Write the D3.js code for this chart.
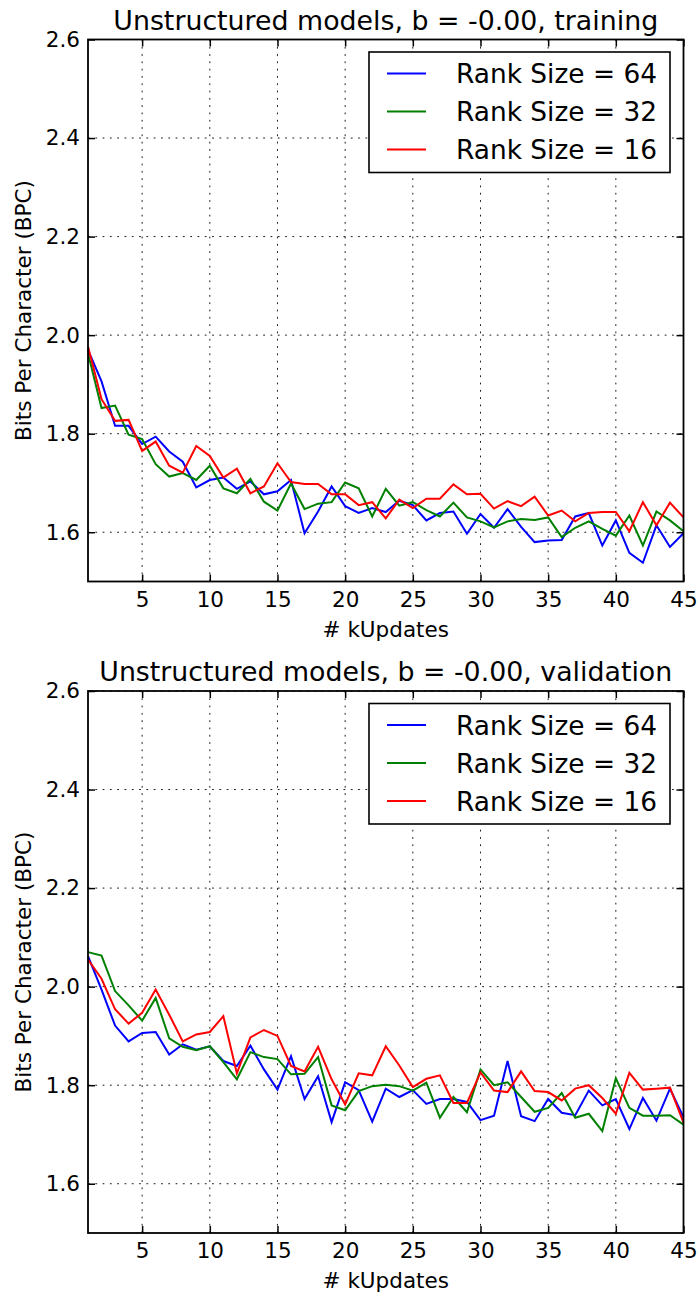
<!DOCTYPE html>
<html>
<head>
<meta charset="utf-8">
<script src="https://cdn.jsdelivr.net/npm/d3@7"></script>
<style>
  html, body { margin: 0; padding: 0; background: #fff; }
  svg text { font-family: "DejaVu Sans", sans-serif; fill: #000; }
</style>
</head>
<body>
<div id="chart"></div>
<script>
// --------------- Data ---------------
const kUpdates = d3.range(1, 46);
const yTicks = [1.6, 1.8, 2.0, 2.2, 2.4, 2.6];
const xTicks = [5, 10, 15, 20, 25, 30, 35, 40, 45];
const rankLabels = ["Rank Size = 64", "Rank Size = 32", "Rank Size = 16"];

const trainRank64 = [1.97, 1.906, 1.816, 1.816, 1.779, 1.794, 1.764, 1.743, 1.691, 1.706,
  1.711, 1.688, 1.703, 1.677, 1.683, 1.706, 1.598, 1.642, 1.693, 1.653,
  1.639, 1.649, 1.641, 1.664, 1.655, 1.624, 1.639, 1.642, 1.597, 1.637,
  1.609, 1.647, 1.611, 1.58, 1.583, 1.584, 1.632, 1.639, 1.573, 1.624,
  1.558, 1.538, 1.614, 1.57, 1.598];
const trainRank32 = [1.963, 1.852, 1.857, 1.798, 1.789, 1.738, 1.713, 1.72, 1.706, 1.735,
  1.689, 1.679, 1.708, 1.662, 1.644, 1.699, 1.647, 1.658, 1.661, 1.701,
  1.689, 1.632, 1.688, 1.654, 1.661, 1.645, 1.632, 1.66, 1.63, 1.622,
  1.61, 1.622, 1.627, 1.625, 1.63, 1.59, 1.609, 1.622, 1.607, 1.593,
  1.634, 1.573, 1.642, 1.624, 1.602];
const trainRank16 = [1.977, 1.87, 1.826, 1.828, 1.765, 1.784, 1.735, 1.721, 1.775, 1.755,
  1.711, 1.729, 1.679, 1.693, 1.74, 1.702, 1.698, 1.698, 1.677, 1.677,
  1.655, 1.661, 1.628, 1.666, 1.649, 1.668, 1.668, 1.697, 1.677, 1.678,
  1.648, 1.663, 1.653, 1.672, 1.634, 1.644, 1.622, 1.639, 1.641, 1.641,
  1.602, 1.661, 1.614, 1.66, 1.63];

const validRank64 = [2.062, 1.994, 1.921, 1.889, 1.906, 1.908, 1.862, 1.883, 1.872, 1.879,
  1.849, 1.839, 1.88, 1.832, 1.791, 1.859, 1.772, 1.818, 1.725, 1.806,
  1.79, 1.726, 1.793, 1.776, 1.79, 1.762, 1.772, 1.772, 1.766, 1.729,
  1.738, 1.849, 1.737, 1.727, 1.772, 1.744, 1.739, 1.789, 1.759, 1.772,
  1.711, 1.774, 1.728, 1.793, 1.735];
const validRank32 = [2.07, 2.063, 1.991, 1.962, 1.931, 1.977, 1.895, 1.878, 1.871, 1.879,
  1.847, 1.812, 1.867, 1.857, 1.853, 1.822, 1.823, 1.857, 1.759, 1.749,
  1.788, 1.798, 1.801, 1.798, 1.789, 1.805, 1.734, 1.776, 1.745, 1.832,
  1.80, 1.806, 1.776, 1.746, 1.754, 1.784, 1.734, 1.742, 1.707, 1.814,
  1.754, 1.738, 1.738, 1.739, 1.72];
const validRank16 = [2.055, 2.016, 1.954, 1.925, 1.947, 1.994, 1.943, 1.889, 1.903, 1.908,
  1.94, 1.824, 1.897, 1.912, 1.9, 1.839, 1.828, 1.878, 1.812, 1.761,
  1.824, 1.82, 1.879, 1.84, 1.796, 1.813, 1.82, 1.764, 1.764, 1.826,
  1.789, 1.786, 1.828, 1.788, 1.786, 1.769, 1.793, 1.80, 1.774, 1.742,
  1.825, 1.791, 1.793, 1.795, 1.724];

const COLORS = ["#0000ff", "#008000", "#ff0000"];

// --------------- Layout ---------------
const WIDTH = 697;
const HEIGHT = 1297;
const PLOT_LEFT = 88;
const PLOT_RIGHT = 683.5;
const PLOT_HEIGHT = 542;
const PANELS = [
  { top: 39.5, title: "Unstructured models, b = -0.00, training", series: [trainRank64, trainRank32, trainRank16] },
  { top: 691, title: "Unstructured models, b = -0.00, validation", series: [validRank64, validRank32, validRank16] },
];

const svg = d3
  .select("#chart")
  .append("svg")
  .attr("width", WIDTH)
  .attr("height", HEIGHT);

function renderPanel(panel) {
  const top = panel.top;
  const bottom = top + PLOT_HEIGHT;

  const X_SCALE = d3.scaleLinear().domain([1, 45]).range([PLOT_LEFT, PLOT_RIGHT]);
  const Y_SCALE = d3.scaleLinear().domain([1.5, 2.6]).range([bottom, top]);

  const g = svg.append("g");

  // dotted grid
  const grid = g.append("g")
    .attr("stroke", "#000")
    .attr("stroke-width", 0.9)
    .attr("stroke-dasharray", "1.8,5.5");
  grid.selectAll("line.gx")
    .data(xTicks)
    .enter()
    .append("line")
    .attr("x1", (d) => X_SCALE(d))
    .attr("x2", (d) => X_SCALE(d))
    .attr("y1", bottom)
    .attr("y2", top);
  grid.selectAll("line.gy")
    .data(yTicks)
    .enter()
    .append("line")
    .attr("x1", PLOT_LEFT)
    .attr("x2", PLOT_RIGHT)
    .attr("y1", (d) => Y_SCALE(d))
    .attr("y2", (d) => Y_SCALE(d));

  // series
  const line = d3.line()
    .x((_d, i) => X_SCALE(kUpdates[i]))
    .y((d) => Y_SCALE(d));
  panel.series.forEach((values, i) => {
    g.append("path")
      .datum(values)
      .attr("fill", "none")
      .attr("stroke", COLORS[i])
      .attr("stroke-width", 2)
      .attr("stroke-linejoin", "miter")
      .attr("d", line);
  });

  // axes, ticks pointing inward
  const styleAxis = (sel) => {
    sel.select(".domain").remove();
    sel.selectAll(".tick line").attr("stroke", "#000").attr("stroke-width", 1.5);
    sel.selectAll(".tick text")
      .attr("font-family", "DejaVu Sans, sans-serif")
      .attr("font-size", "21.5px")
      .attr("fill", "#000");
  };

  g.append("g")
    .attr("transform", `translate(0,${bottom})`)
    .call(d3.axisBottom(X_SCALE).tickValues(xTicks).tickSize(-7).tickPadding(10).tickFormat(d3.format("d")))
    .call(styleAxis);
  g.append("g")
    .attr("transform", `translate(0,${top})`)
    .call(d3.axisTop(X_SCALE).tickValues(xTicks).tickSize(-7).tickFormat(""))
    .call(styleAxis);
  g.append("g")
    .attr("transform", `translate(${PLOT_LEFT},0)`)
    .call(d3.axisLeft(Y_SCALE).tickValues(yTicks).tickSize(-7).tickPadding(8).tickFormat(d3.format(".1f")))
    .call(styleAxis);
  g.append("g")
    .attr("transform", `translate(${PLOT_RIGHT},0)`)
    .call(d3.axisRight(Y_SCALE).tickValues(yTicks).tickSize(-7).tickFormat(""))
    .call(styleAxis);

  // frame
  g.append("rect")
    .attr("x", PLOT_LEFT)
    .attr("y", top)
    .attr("width", PLOT_RIGHT - PLOT_LEFT)
    .attr("height", PLOT_HEIGHT)
    .attr("fill", "none")
    .attr("stroke", "#000")
    .attr("stroke-width", 1.8);

  // title and labels
  g.append("text")
    .attr("x", (PLOT_LEFT + PLOT_RIGHT) / 2)
    .attr("y", top - 10)
    .attr("text-anchor", "middle")
    .attr("font-size", "26.8px")
    .text(panel.title);

  g.append("text")
    .attr("x", (PLOT_LEFT + PLOT_RIGHT) / 2)
    .attr("y", bottom + 55)
    .attr("text-anchor", "middle")
    .attr("font-size", "21.5px")
    .text("# kUpdates");

  g.append("text")
    .attr("transform", `translate(31,${(top + bottom) / 2}) rotate(-90)`)
    .attr("text-anchor", "middle")
    .attr("font-size", "21.5px")
    .text("Bits Per Character (BPC)");

  // legend
  const legend = g.append("g").attr("transform", `translate(369,${top + 12.5})`);
  legend.append("rect")
    .attr("width", 301)
    .attr("height", 120.5)
    .attr("fill", "#fff")
    .attr("stroke", "#000")
    .attr("stroke-width", 1.6);
  const rows = legend.selectAll("g.row")
    .data(rankLabels)
    .enter()
    .append("g")
    .attr("transform", (_d, i) => `translate(0,${21.5 + i * 38})`);
  rows.append("line")
    .attr("x1", 18)
    .attr("x2", 57)
    .attr("stroke", (_d, i) => COLORS[i])
    .attr("stroke-width", 2);
  rows.append("text")
    .attr("x", 87)
    .attr("dy", "0.36em")
    .attr("font-size", "26.4px")
    .text((d) => d);
}

PANELS.forEach(renderPanel);
</script>
</body>
</html>
